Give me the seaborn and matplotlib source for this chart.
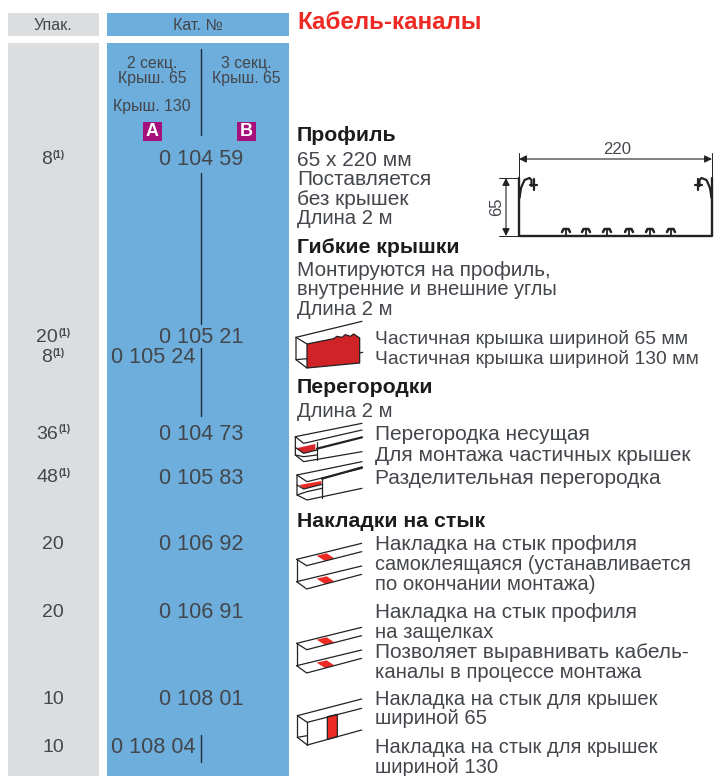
import matplotlib
matplotlib.use("Agg")
import matplotlib.pyplot as plt
from matplotlib.patches import Rectangle, Polygon
import pandas as pd
import seaborn as sns

sns.set_theme(style="white")
plt.rcParams['font.family'] = ['Liberation Sans', 'DejaVu Sans']

GRAY = '#dcddde'
BLUE = '#6eaedc'
TEXT = '#43464b'
RED = '#ee2a24'

# packs column
pack_labels = ['8', '20', '8', '36', '48', '20', '20', '10', '10']
pack_notes = [True, True, True, True, True, False, False, False, False]
pack_rows = [158, 336, 356, 433, 476, 543, 611, 698, 746]

# catalogue numbers, "A" sits in the left column, "mid" across both
cat_numbers = ['0 104 59', '0 105 21', '0 105 24', '0 104 73', '0 105 83',
               '0 106 92', '0 106 91', '0 108 01', '0 108 04']
cat_place = ['mid', 'mid', 'A', 'mid', 'mid', 'mid', 'mid', 'mid', 'A']
cat_rows = [158, 336, 356, 433, 477, 543, 611, 698, 746]

# description column
head_labels = ['Профиль', 'Гибкие крышки', 'Перегородки', 'Накладки на стык']
head_rows = [134, 246, 386, 520]
desc_labels = ['65 x 220 мм', 'Поставляется', 'без крышек', 'Длина 2 м',
               'Монтируются на профиль,', 'внутренние и внешние углы', 'Длина 2 м',
               'Длина 2 м']
desc_rows = [159, 178, 198, 217, 269, 288, 308, 410]
desc_sizes = [15, 15, 15, 14.6, 14.9, 14.4, 14.6, 14.6]
item_labels = ['Частичная крышка шириной 65 мм', 'Частичная крышка шириной 130 мм',
               'Перегородка несущая', 'Для монтажа частичных крышек',
               'Разделительная перегородка',
               'Накладка на стык профиля', 'самоклеящаяся (устанавливается',
               'по окончании монтажа)',
               'Накладка на стык профиля', 'на защелках',
               'Позволяет выравнивать кабель-', 'каналы в процессе монтажа',
               'Накладка на стык для крышек', 'шириной 65',
               'Накладка на стык для крышек', 'шириной 130']
item_rows = [337, 357, 433, 454, 477, 543, 563, 583, 611, 631, 651, 671, 698, 717, 746, 766]
item_sizes = [13.9, 13.9, 15, 15, 15, 14.9, 14.3, 14.6, 14.9, 14.6, 15, 14.6, 14.5, 14.6, 14.5, 14.6]

# the divider between columns A and B
rule_start = [49, 173, 348, 735]
rule_end = [135, 324, 416, 762]

fig = plt.figure(figsize=(7.16, 7.76), dpi=100)
ax = fig.add_axes([0, 0, 1, 1])

# column backgrounds
for x, w, c in [(8, 91, GRAY), (107, 182, BLUE)]:
    ax.add_patch(Rectangle((x, 13), w, 23, fc=c, ec='none', zorder=0))
    ax.add_patch(Rectangle((x, 43), w, 733, fc=c, ec='none', zorder=0))

rules = pd.DataFrame({
    'x': [201] * 2 * len(rule_start),
    'y': rule_start + rule_end,
    'seg': list(range(len(rule_start))) * 2,
})
sns.lineplot(data=rules, x='x', y='y', units='seg', estimator=None, color='#1f2a38',
             lw=1, sort=False, legend=False, ax=ax)
ax.set_xlim(0, 716)
ax.set_ylim(776, 0)
ax.axis('off')


def put(x, y, s, size=14, ha='left', color=TEXT, weight='normal', rotation=0):
    ax.text(x, y + 1.5, s, ha=ha, va='center', fontsize=size, color=color,
            fontweight=weight, rotation=rotation)


put(53, 24, 'Упак.', 11.6, 'center')
put(198, 24, 'Кат. №', 11.6, 'center')
put(297, 21, 'Кабель-каналы', 17.4, color=RED, weight='bold')

for x, y, s in [(152, 62, '2 секц.'), (152, 77, 'Крыш. 65'), (152, 105, 'Крыш. 130'),
                (246, 62, '3 секц.'), (246, 77, 'Крыш. 65')]:
    put(x, y, s, 11.4, 'center')

for x, s in [(143, 'A'), (237, 'B')]:
    ax.add_patch(Rectangle((x, 122), 19, 19, fc='#a6107a', ec='none'))
    ax.text(x + 9.5, 132, s, ha='center', va='center', fontsize=13,
            fontweight='bold', color='white')

for s, note, y in zip(pack_labels, pack_notes, pack_rows):
    if note:
        right = 52 if len(s) == 1 else 58
        put(right, y, s, 14, 'right')
        put(right + 0.5, y - 5, '(1)', 7, weight='bold')
    else:
        put(53, y, s, 14, 'center')

for s, place, y in zip(cat_numbers, cat_place, cat_rows):
    if place == 'A':
        put(111, y, s, 15.6)
    else:
        put(201, y, s, 15.6, 'center')

for s, y in zip(head_labels, head_rows):
    put(297, y, s, 15.3, color='#1c1c1c', weight='bold')
for s, y, size in zip(desc_labels, desc_rows, desc_sizes):
    put(297, y, s, size)
for s, y, size in zip(item_labels, item_rows, item_sizes):
    put(375, y, s, size)


def line(pts, lw=1.0, color='#222222'):
    ax.plot([p[0] for p in pts], [p[1] for p in pts], color=color, lw=lw,
            solid_capstyle='round', zorder=3)


def arrow(a, b):
    ax.annotate('', xy=b, xytext=a, arrowprops=dict(arrowstyle='<|-|>', color='#222222',
                                                    lw=0.8, shrinkA=0, shrinkB=0,
                                                    mutation_scale=11))


# profile drawing
line([(519, 178), (519, 236), (712, 236), (712, 178)], lw=1.7)
line([(519, 153), (519, 178)], lw=0.7)
line([(712, 153), (712, 178)], lw=0.7)
line([(499, 178), (519, 178)], lw=0.7)
line([(499, 236), (519, 236)], lw=0.7)
arrow((519, 159), (712, 159))
arrow((506, 178), (506, 236))
put(617, 148, '220', 12, 'center')
ax.text(497, 207, '65', ha='center', va='center', rotation=90, fontsize=12, color=TEXT)
for side in [1, -1]:
    x0 = 519.5 if side == 1 else 711.5
    line([(x0, 198), (x0 + 1.5 * side, 188), (x0 + 5 * side, 180), (x0 + 10 * side, 178),
          (x0 + 12 * side, 180), (x0 + 12 * side, 186)], lw=1.6)
    line([(x0 + 14 * side, 179), (x0 + 14 * side, 190)], lw=1.6)
    line([(x0 + 10 * side, 185), (x0 + 17 * side, 185)], lw=1.6)
for x in [566, 586, 607, 629, 650, 671]:
    line([(x, 229), (x, 236)], lw=1.3)
    line([(x - 4, 232), (x - 2.5, 229), (x + 2.5, 229), (x + 4, 232)], lw=1.8)


def zm(pts, ox, oy):
    return [(ox + p[0] / 3, oy + p[1] / 3) for p in pts]


def red(pts, ox, oy, color=RED, edge='none'):
    ax.add_patch(Polygon(zm(pts, ox, oy), closed=True, fc=color, ec=edge, lw=0.9, zorder=2))


# partial cover
ox, oy = 292, 318
for pts in [[(12, 58), (210, 10)], [(12, 58), (12, 125), (45, 150)], [(12, 58), (45, 78)],
            [(12, 125), (45, 122)], [(203, 105), (212, 103)]]:
    line(zm(pts, ox, oy), lw=0.9)
red([(45, 78), (125, 62), (135, 55), (150, 58), (160, 50), (175, 55), (185, 48), (203, 60),
     (203, 135), (45, 150)], ox, oy, color='#cf2327', edge='#222222')

# partitions
ox, oy = 292, 420
for pts in [[(10, 50), (210, 10)], [(10, 50), (10, 105), (35, 125), (210, 95)],
            [(10, 50), (35, 70), (210, 30)], [(75, 65), (75, 120)],
            [(10, 82), (35, 100), (75, 90)], [(10, 105), (35, 110), (75, 105)]]:
    line(zm(pts, ox, oy), lw=0.9)
line(zm([(75, 86), (210, 52)], ox, oy), lw=1.6)
red([(12, 85), (70, 72), (70, 90), (35, 100)], ox, oy, color='#d8252b')

for pts in [[(15, 165), (210, 125)], [(15, 165), (15, 225), (45, 240), (210, 205)],
            [(15, 165), (45, 185), (210, 145)], [(90, 172), (90, 235)],
            [(15, 195), (35, 207), (90, 193)], [(15, 225), (45, 215), (90, 205)]]:
    line(zm(pts, ox, oy), lw=0.9)
line(zm([(90, 176), (210, 142)], ox, oy), lw=1.6)
red([(22, 195), (88, 183), (88, 193), (35, 207)], ox, oy)

# joint covers
ox, oy = 290, 530
for dy in [0, 252]:
    for pts in [[(20, 88), (20, 155)], [(20, 88), (215, 40)], [(50, 107), (215, 65)], [(20, 88), (50, 107)],
                [(20, 155), (50, 177), (215, 133)], [(20, 155), (215, 108)]]:
        line(zm([(p[0], p[1] + dy) for p in pts], ox, oy), lw=0.9)
    for ry in [0, 69]:
        red([(80, 77 + ry + dy), (110, 70 + ry + dy), (133, 85 + ry + dy), (105, 93 + ry + dy)], ox, oy)

for pts in [[(22, 557), (215, 507)], [(52, 577), (215, 535)], [(22, 557), (52, 577)],
            [(52, 577), (52, 645)], [(22, 557), (22, 622)], [(22, 622), (52, 645)],
            [(52, 645), (215, 600)], [(22, 622), (52, 617)]]:
    line(zm(pts, ox, oy), lw=0.9)
red([(112, 560), (142, 553), (142, 620), (112, 628)], ox, oy, edge='#222222')

fig.savefig('out.png', dpi=100)
